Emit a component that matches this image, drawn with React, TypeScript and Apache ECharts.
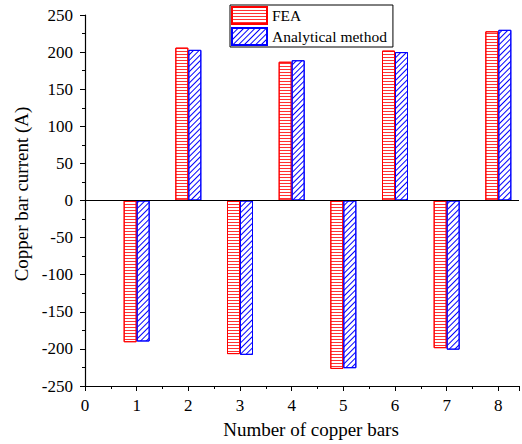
import React, { useEffect, useRef } from "react";
import * as echarts from "echarts";

const barNumbers = [1, 2, 3, 4, 5, 6, 7, 8];
const feaValues = [-191, 206, -207, 187, -227, 202, -199, 228];
const analyticalValues = [-190, 203, -208, 189, -226, 200, -201, 230];
const seriesNames = ["FEA", "Analytical method"];

const FONT = "Liberation Serif";

export default function App() {
  const ref = useRef<HTMLDivElement>(null);
  useEffect(() => {
    if (!ref.current) return;
    const chart = echarts.init(ref.current, undefined, { renderer: "svg" });
    chart.setOption({
      animation: false,
      backgroundColor: "#fff",
      textStyle: { fontFamily: FONT, color: "#000", fontSize: 17 },
      grid: { left: 85, right: -1, top: 15, bottom: 54, containLabel: false },
      legend: {
        orient: "vertical",
        left: 230,
        top: 5,
        data: seriesNames,
        icon: "rect",
        itemWidth: 35,
        itemHeight: 17,
        itemGap: 2,
        padding: [1, 6, 1, 1],
        borderColor: "#000",
        borderWidth: 1,
        borderRadius: 0,
        textStyle: { color: "#000", fontFamily: FONT, fontSize: 15.5 },
      },
      xAxis: [
        {
          type: "value",
          min: 0,
          max: 8.4,
          interval: 1,
          name: "Number of copper bars",
          nameLocation: "middle",
          nameGap: 34,
          nameTextStyle: { color: "#000", fontFamily: FONT, fontSize: 19, padding: [0, 0, 0, 18] },
          axisLine: { show: true, onZero: false, lineStyle: { color: "#000", width: 1.2 } },
          axisTick: { show: true, inside: false, length: 5, lineStyle: { color: "#000" } },
          minorTick: { show: true, splitNumber: 2, length: 3, lineStyle: { color: "#000" } },
          splitLine: { show: false },
          minorSplitLine: { show: false },
          axisLabel: {
            show: true,
            color: "#000",
            fontFamily: FONT,
            fontSize: 17,
            margin: 11,
            formatter: (v: number) => (Number.isInteger(v) ? String(v) : ""),
          },
        },
      ],
      yAxis: [
        {
          type: "value",
          min: -250,
          max: 250,
          interval: 50,
          name: "Copper bar current (A)",
          nameLocation: "middle",
          nameGap: 54,
          nameTextStyle: { color: "#000", fontFamily: FONT, fontSize: 19, padding: [0, 0, 0, 13] },
          axisLine: { show: true, lineStyle: { color: "#000", width: 1.2 } },
          axisTick: { show: true, inside: false, length: 5, lineStyle: { color: "#000" } },
          minorTick: { show: true, splitNumber: 2, length: 3, lineStyle: { color: "#000" } },
          splitLine: { show: false },
          axisLabel: {
            show: true,
            color: "#000",
            fontFamily: FONT,
            fontSize: 17,
            margin: 12,
          },
        },
      ],
      series: [
        {
          name: seriesNames[0],
          type: "bar",
          barWidth: 13,
          barGap: "0%",
          data: barNumbers.map((x, i) => [x, feaValues[i]]),
          itemStyle: {
            color: "#fff",
            borderColor: "#ff0000",
            borderWidth: 1,
            decal: {
              symbol: "rect",
              symbolSize: 1,
              color: "rgba(255,0,0,0.8)",
              backgroundColor: "#fff",
              dashArrayX: [1, 0],
              dashArrayY: [1, 2],
              rotation: 0,
            },
          },
          markLine: {
            silent: true,
            symbol: "none",
            label: { show: false },
            lineStyle: { color: "#000", type: "solid", width: 1.2 },
            data: [{ yAxis: 0 }],
          },
        },
        {
          name: seriesNames[1],
          type: "bar",
          barWidth: 13,
          barGap: "0%",
          data: barNumbers.map((x, i) => [x, analyticalValues[i]]),
          itemStyle: {
            color: "#fff",
            borderColor: "#0000ff",
            borderWidth: 1,
            decal: {
              symbol: "rect",
              symbolSize: 1,
              color: "#0000ff",
              backgroundColor: "#fff",
              dashArrayX: [1, 0],
              dashArrayY: [1, 3],
              rotation: -Math.PI / 4,
            },
          },
        },
      ],
    });
    return () => chart.dispose();
  }, []);
  return (
    <div
      ref={ref}
      style={{ position: "fixed", left: 0, top: 0, width: 522, height: 444 }}
    />
  );
}
